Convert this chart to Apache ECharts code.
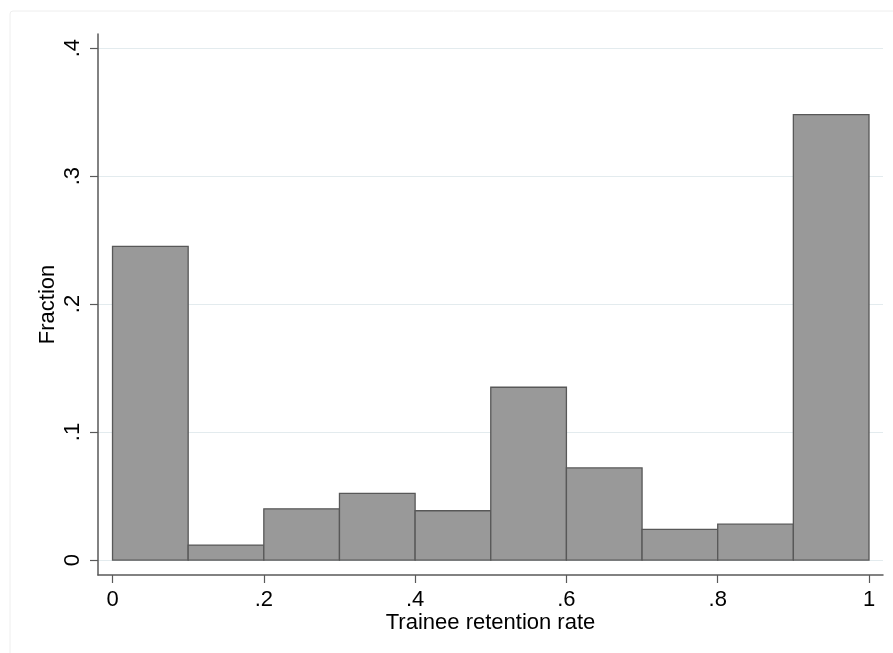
<!DOCTYPE html>
<html>
<head>
<meta charset="utf-8">
<script src="https://cdn.jsdelivr.net/npm/echarts@6/dist/echarts.min.js"></script>
<style>
html,body{margin:0;padding:0;background:#fff;}
#chart{width:893px;height:653px;}
</style>
</head>
<body>
<div id="chart"></div>
<script>
// Histogram bins (lower edge, upper edge) and fractions
var binStarts = [0.0, 0.1, 0.2, 0.3, 0.4, 0.5, 0.6, 0.7, 0.8, 0.9];
var binEnds   = [0.1, 0.2, 0.3, 0.4, 0.5, 0.6, 0.7, 0.8, 0.9, 1.0];
var fractions = [0.245, 0.0117, 0.040, 0.052, 0.0385, 0.135, 0.072, 0.024, 0.028, 0.348];

var xTickValues = [0, 0.2, 0.4, 0.6, 0.8, 1];
var xTickLabels = ['0', '.2', '.4', '.6', '.8', '1'];
var yTickValues = [0, 0.1, 0.2, 0.3, 0.4];
var yTickLabels = ['0', '.1', '.2', '.3', '.4'];

var xTitle = 'Trainee retention rate';
var yTitle = 'Fraction';

function labelFor(values, labels) {
  return function (v) {
    for (var i = 0; i < values.length; i++) {
      if (Math.abs(values[i] - v) < 1e-9) return labels[i];
    }
    return '';
  };
}

var data = binStarts.map(function (s, i) { return [s, binEnds[i], fractions[i]]; });

var chart = echarts.init(document.getElementById('chart'), null, {renderer: 'canvas'});
var font = 'Liberation Sans, Arial, sans-serif';
var fs = 22;

chart.setOption({
  animation: false,
  backgroundColor: '#ffffff',
  graphic: [{
    type: 'rect',
    shape: {x: 10, y: 11, width: 900, height: 700, r: 3},
    style: {fill: 'none', stroke: '#eeeeee', lineWidth: 1},
    silent: true,
    z: -10
  }],
  grid: {left: 98, right: 10, top: 34, bottom: 78, containLabel: false},
  xAxis: {
    type: 'value',
    min: -0.0192,
    max: 1.0185,
    name: xTitle,
    nameLocation: 'middle',
    nameGap: 37,
    nameMoveOverlap: false,
    nameTextStyle: {fontFamily: font, fontSize: fs, color: '#000'},
    axisLine: {show: true, onZero: false, lineStyle: {color: '#595959', width: 1.5}},
    axisTick: {show: true, inside: false, length: 8, customValues: xTickValues, lineStyle: {color: '#595959', width: 1.2}},
    axisLabel: {customValues: xTickValues, formatter: labelFor(xTickValues, xTickLabels), fontFamily: font, fontSize: fs, color: '#000', margin: 14},
    splitLine: {show: false}
  },
  yAxis: {
    type: 'value',
    min: -0.0117,
    max: 0.411,
    name: yTitle,
    nameLocation: 'middle',
    nameGap: 39,
    nameMoveOverlap: false,
    nameTextStyle: {fontFamily: font, fontSize: fs, color: '#000'},
    axisLine: {show: true, onZero: false, lineStyle: {color: '#595959', width: 1.5}},
    axisTick: {show: true, inside: false, length: 8, customValues: yTickValues, lineStyle: {color: '#595959', width: 1.2}},
    axisLabel: {customValues: yTickValues, formatter: labelFor(yTickValues, yTickLabels), rotate: 90, fontFamily: font, fontSize: fs, color: '#000', margin: 14},
    splitLine: {show: true, lineStyle: {color: '#e3ebee', width: 1.2}}
  },
  series: [{
    type: 'custom',
    data: data,
    encode: {x: [0, 1], y: 2},
    clip: false,
    renderItem: function (params, api) {
      var p0 = api.coord([api.value(0), 0]);
      var p1 = api.coord([api.value(1), api.value(2)]);
      return {
        type: 'rect',
        shape: {x: p0[0], y: p1[1], width: p1[0] - p0[0], height: p0[1] - p1[1]},
        style: {fill: '#999999', stroke: '#585858', lineWidth: 1.3}
      };
    }
  }]
});
</script>
</body>
</html>
